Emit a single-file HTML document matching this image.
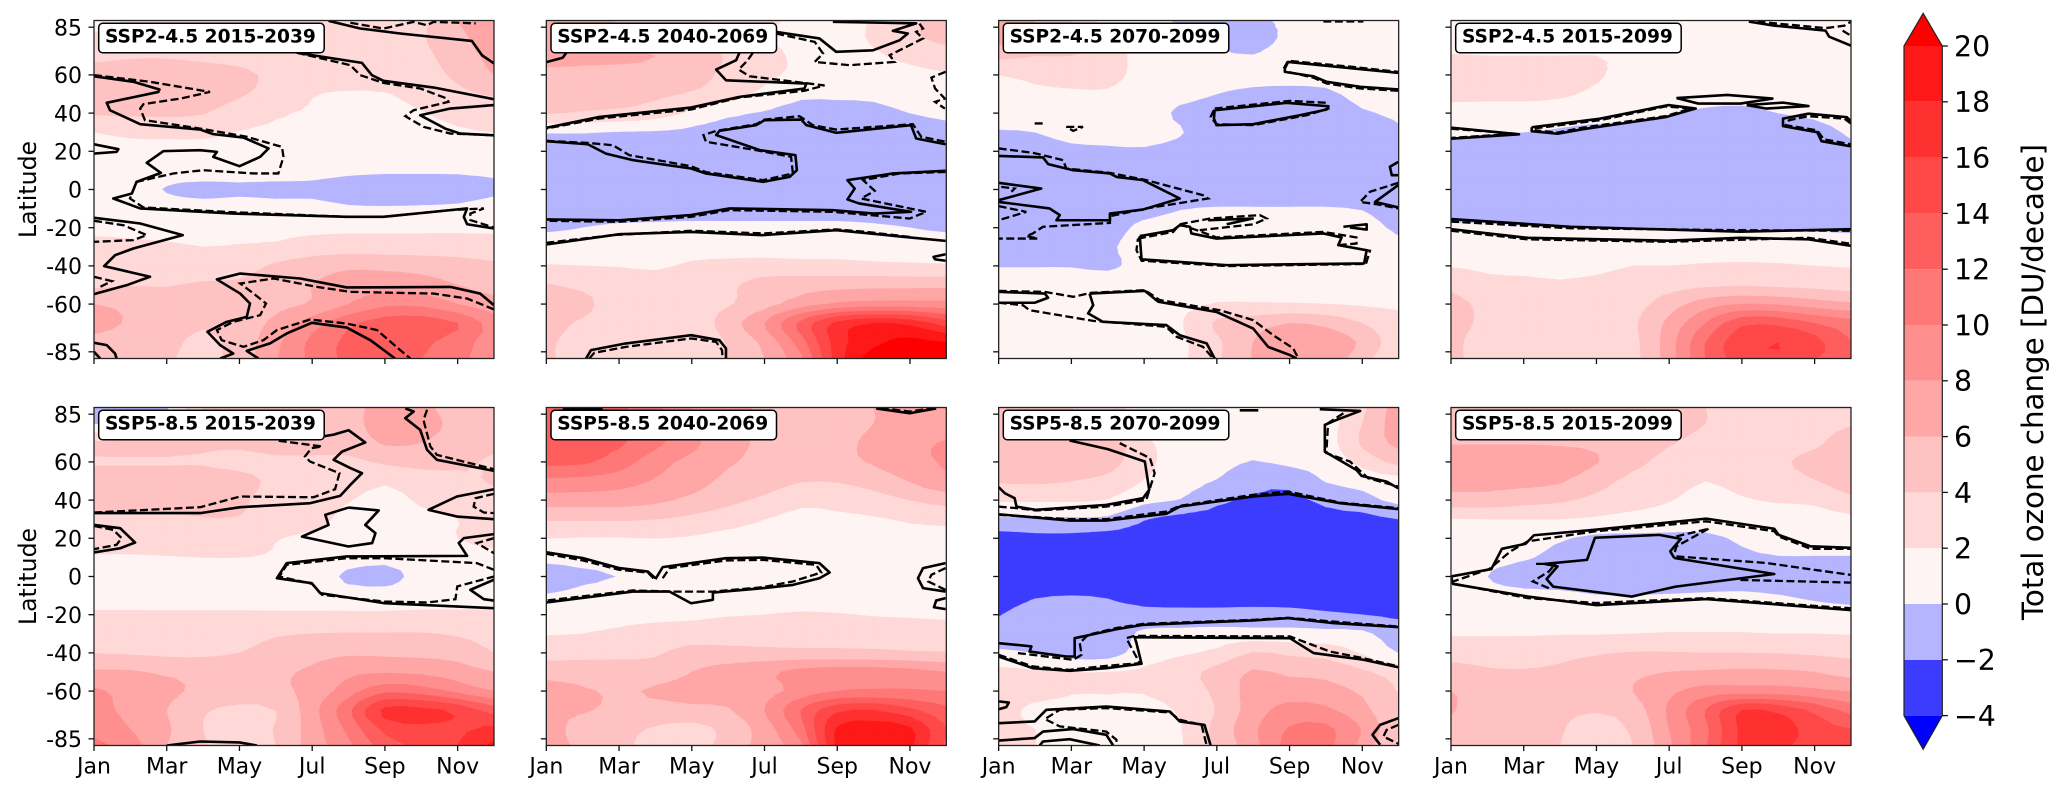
<!DOCTYPE html>
<html lang="en">
<head>
<meta charset="utf-8">
<title>Total ozone change by latitude and month</title>
<style>
html,body{margin:0;padding:0;background:#fff;width:2067px;height:790px;overflow:hidden}
svg{display:block}
text{font-family:"DejaVu Sans","Liberation Sans",sans-serif;fill:#000}
.panel-title{font-weight:bold;font-size:18.6px}
.axis-text{font-size:22px}
.axis-title{font-size:23.6px}
.cb-text{font-size:28.4px}
.cb-title{font-size:29.3px}
</style>
</head>
<body>
<svg id="chart" xmlns="http://www.w3.org/2000/svg" width="2067" height="790" viewBox="0 0 2067 790">
  <g id="panel-0"><g id="title-0"><rect x="98.7" y="23.3" width="225.5" height="29.5" rx="4" fill="#fff" stroke="#000" stroke-width="1.5"/><text class="panel-title" x="105" y="42.7">SSP2-4.5 2015-2039</text></g></g>
  <g id="panel-1"><g id="title-1"><rect x="551" y="23.3" width="225.5" height="29.5" rx="4" fill="#fff" stroke="#000" stroke-width="1.5"/><text class="panel-title" x="557.3" y="42.7">SSP2-4.5 2040-2069</text></g></g>
  <g id="panel-2"><g id="title-2"><rect x="1003.3" y="23.3" width="225.5" height="29.5" rx="4" fill="#fff" stroke="#000" stroke-width="1.5"/><text class="panel-title" x="1009.6" y="42.7">SSP2-4.5 2070-2099</text></g></g>
  <g id="panel-3"><g id="title-3"><rect x="1455.7" y="23.3" width="225.5" height="29.5" rx="4" fill="#fff" stroke="#000" stroke-width="1.5"/><text class="panel-title" x="1462" y="42.7">SSP2-4.5 2015-2099</text></g></g>
  <g id="panel-4"><g id="title-4"><rect x="98.7" y="410.3" width="225.5" height="29.5" rx="4" fill="#fff" stroke="#000" stroke-width="1.5"/><text class="panel-title" x="105" y="429.7">SSP5-8.5 2015-2039</text></g></g>
  <g id="panel-5"><g id="title-5"><rect x="551" y="410.3" width="225.5" height="29.5" rx="4" fill="#fff" stroke="#000" stroke-width="1.5"/><text class="panel-title" x="557.3" y="429.7">SSP5-8.5 2040-2069</text></g></g>
  <g id="panel-6"><g id="title-6"><rect x="1003.3" y="410.3" width="225.5" height="29.5" rx="4" fill="#fff" stroke="#000" stroke-width="1.5"/><text class="panel-title" x="1009.6" y="429.7">SSP5-8.5 2070-2099</text></g></g>
  <g id="panel-7"><g id="title-7"><rect x="1455.7" y="410.3" width="225.5" height="29.5" rx="4" fill="#fff" stroke="#000" stroke-width="1.5"/><text class="panel-title" x="1462" y="429.7">SSP5-8.5 2015-2099</text></g></g>
  <text class="axis-title" transform="translate(36,189.5) rotate(-90)" text-anchor="middle">Latitude</text>
  <text class="axis-title" transform="translate(36,576.5) rotate(-90)" text-anchor="middle">Latitude</text>
  <g id="colorbar"></g>
  <text class="cb-title" transform="translate(2043,382) rotate(-90)" text-anchor="middle">Total ozone change [DU/decade]</text>
</svg>
<script>
// ---- axes and colour scale data ----
const monthTicks = [0, 2, 4, 6, 8, 10];
const monthLabels = ['Jan', 'Mar', 'May', 'Jul', 'Sep', 'Nov'];
const latTicks = [85, 60, 40, 20, 0, -20, -40, -60, -85];
const latRows = [88.5, 80, 70, 60, 50, 40, 30, 20, 10, 0, -10, -20, -30, -40, -50, -60, -70, -80, -88.5];
const levels = [-4, -2, 0, 2, 4, 6, 8, 10, 12, 14, 16, 18, 20];
const bandColors = ['#0000ff', '#3c3cff', '#b4b4ff', '#fff4f4', '#ffd8d8', '#ffc2c2', '#ffa6a6', '#ff8f8f', '#ff7878', '#ff5e5e', '#ff4848', '#ff3030', '#ff1818', '#ff0000'];
const colorbarTicks = [-4, -2, 0, 2, 4, 6, 8, 10, 12, 14, 16, 18, 20];

// ---- ozone trend fields: rows follow latRows, columns are Jan..Dec ----
const fieldA = [
[0.5,2.5,3,3,3,3,3,3,3,3.5,6,7.5],
[2.5,3,3,3,3,3,3,3,3.2,3.8,5.5,7],
[3.5,3.8,3.8,3.5,3.2,3,3,3,3,3.5,5,6.5],
[4.8,5,5,5,4.5,3.5,3,3,3,3.2,4.4,6],
[5,5.2,5,4.9,4.2,3.2,2.1,1.8,1.9,2.6,3.5,4.2],
[4.2,4.3,4.3,4.1,3,2.2,1.8,1.6,1.6,1.9,2.5,3],
[2,2.4,2.5,2.5,1.9,1.7,1.5,1.4,1.4,1.6,1.8,2],
[1.5,1.4,1.3,1.2,1.2,1.2,1.2,1.2,1.2,1.2,1.3,1.4],
[1.2,1,0.8,0.6,0.6,0.6,0.5,0.3,0.2,0.2,0.2,0.3],
[1,0.7,-0.1,-0.3,-0.2,-0.3,-0.3,-0.6,-0.7,-0.7,-0.6,-0.2],
[1,1,0.8,0.5,0.6,0.5,0.5,0.2,0.15,0.2,0.3,0.6],
[1.6,1.6,1.5,1.4,1.4,1.4,1.5,1.6,1.6,1.6,1.6,1.6],
[2.5,2.3,2.2,2,2.1,2.3,2.9,3,3,3,3,2.9],
[3,3,3,3,3.2,4.3,5,5.6,5.5,5.2,4.8,4.3],
[3.6,3.9,3.9,4.2,4.3,5,6,7,7.2,7,6,5.2],
[6,5.5,4.8,4.8,4.8,5.4,6.2,8,9.5,9.5,8,6.8],
[6.5,5.8,4.8,4.2,4.8,6.5,9,11.5,13,13,12,9],
[5.5,5,4.5,3.6,4.8,7.5,10.5,12.5,13.5,12.5,11,9],
[5,4.5,4.2,3.5,4.8,7.8,10.5,12.5,13,12,10.5,9]];
const fieldB = [
[8,6.5,6,5,4.5,3.5,2.5,1.5,1.2,2.2,3.5,5],
[7,6,5.5,5,4,3,2,1.5,1.5,2.2,3.5,4.8],
[7,6.5,6.3,6,5,3.8,2.7,1.6,1.6,1.8,2.4,2.8],
[5.3,5.4,5.4,5.2,4.7,3.5,2.4,1.6,1.5,1.4,1.6,1.9],
[5,5,4.9,4.4,3.8,2.9,1.5,0.4,0.4,0.5,1.2,1.3],
[4.1,3.8,3.5,2.9,1.6,0.4,-0.2,-0.8,-0.8,-0.7,0,0.4],
[0.1,0.1,-0.1,-0.2,-0.5,-1,-1,-1,-1,-1,-1,-0.6],
[-1,-1,-1,-1,-1,-1,-1,-1,-1,-1,-1,-1],
[-1,-1,-1,-1,-1,-1,-1,-1,-1,-1,-1,-1],
[-1,-1,-1,-1,-1,-1,-1,-1,-1,-1,-1,-1],
[-1,-1,-1,-1,-1,-1,-1,-1,-1,-1,-1,-1],
[-0.3,0,0.3,0.4,0.5,0.5,0.5,0.5,0.5,0.3,0,-0.3],
[1,1,1,1,1.1,1.2,1.2,1.2,1.2,1.1,1,1],
[2.1,2,1.9,1.7,2.3,2.5,2.7,2.6,2.6,2.4,2.3,2.2],
[4.1,3.6,3.3,3,3.1,3.6,4.8,5.2,5.4,5.5,5.5,5.5],
[4.6,4.4,3.2,3,3,3.8,5.2,7,8.3,8.8,8.8,8.7],
[4.4,3.8,2.9,2.8,2.7,5,8,12.5,16.5,18,17.5,15],
[4.2,3.4,2.6,2.4,2.4,4.2,6.5,11,17,19.5,20.5,20],
[4.2,3.3,2.6,2.2,2.4,4,6,9.5,17,21,22,21]];
const fieldC = [
[8,6,4,1,0.5,-0.2,-0.5,-0.3,0.3,0.6,0.6,0.6],
[7,5.5,4.5,3,1,0.3,-0.5,-0.8,0.4,0.5,0.6,0.6],
[4.5,4,4,3.2,1,0.7,0.3,0.05,0.7,0.8,0.8,0.8],
[2,2.4,2.6,2.5,1.4,0.8,0.7,0.6,0.6,0.8,0.9,0.9],
[1.6,1.7,1.8,1.8,1.2,0.5,0,-0.4,-0.5,-0.4,0.6,0.8],
[1.8,1.2,1.2,1.2,0.8,-0.3,-0.7,-1,-1,-1,-0.2,0.2],
[-0.3,0,0.7,0.7,0.6,0.1,-1,-1,-1,-1,-0.8,-0.2],
[-1,-1,-0.5,-0.3,-0.2,-0.6,-1,-1,-1,-1,-1,-1],
[-1,-1,-1,-1,-1,-1,-1,-1,-1,-1,-1,-1],
[-1,-1,-1,-1,-1,-1,-1,-1,-1,-1,-1,-1],
[-1,-1,-1,-1,-0.8,-0.1,0.1,0.1,0.1,0.1,-0.1,-0.8],
[-1,-1,-1,-0.8,0.5,1,1,1,1,1,0.8,-0.4],
[-1,-1,-0.9,-0.3,0.8,1,1,1,1,1,1,0.6],
[-0.1,-0.1,-0.1,-0.3,0.6,1,1,1,1,1,1,1],
[1,1,1,1,1,1.1,1.3,1.4,1.4,1.4,1.3,1.2],
[1.2,1.2,1.1,1.1,1.1,1.4,2.1,2.1,2.1,2,1.8,1.7],
[1,0.9,0.9,0.9,1.1,1.8,4.3,5,6,5.5,4,2.6],
[0.9,0.8,0.8,0.8,1,1.6,3.6,6,7.5,7.2,5.7,2.6],
[0.6,0.7,0.8,0.8,1,1.6,3.7,6.1,7.8,7.4,4.8,2.1]];
const fieldD = [
[0.8,0.8,0.8,0.8,0.8,0.8,0.8,0.8,0.8,0.8,0.8,0.8],
[1,1,1,1,1,1,1,1,1,1,1,1],
[2.1,2,2,2,2,1.6,1,1,1,1,1,1],
[2.8,2.8,2.8,2.8,2.2,1.4,1,1,1,1,1,1],
[2.5,2.4,2.5,2.3,1.6,1.1,0.9,0.7,0.6,0.8,0.9,0.9],
[1.2,1.2,1,0.8,0.7,0.5,0.1,-0.3,-0.4,0,0.3,0.6],
[0.3,0.1,0,-0.2,-0.5,-0.6,-1,-1,-1,-1,-0.6,0.2],
[-0.6,-0.8,-1,-1,-1,-1,-1,-1,-1,-1,-1,-0.4],
[-1,-1,-1,-1,-1,-1,-1,-1,-1,-1,-1,-1],
[-1,-1,-1,-1,-1,-1,-1,-1,-1,-1,-1,-1],
[-1,-1,-1,-1,-1,-1,-1,-1,-1,-1,-1,-1],
[0.3,0.3,0.1,0,0,0,-0.1,-0.2,-0.2,-0.2,-0.2,-0.3],
[1,1,1,1,1,1,0.8,0.8,0.8,0.8,0.8,0.8],
[1.9,1.6,1.5,1.4,1.6,2,2,2.2,2.3,2.2,2,1.9],
[3.5,2.6,2.4,2.2,2.4,2.7,3.2,3.6,3.8,3.6,3.4,3.1],
[4.6,3.4,2.7,2.6,2.6,3.2,5,7,8,7.8,7,6.3],
[4.5,3.6,2.9,2.6,2.6,3.6,6.5,10,13.5,13.5,12,10.8],
[4.4,3.2,2.8,2.5,2.5,3.4,7,12,15.3,16,14.7,12],
[4.5,3,2.6,2.4,2.4,3.3,7,12,15,15.5,14,13]];
const fieldE = [
[-0.3,-0.3,-0.2,4,5,5,5,5.5,6.5,6.5,5,4.5],
[-0.1,0,0.5,4.5,5,5,5,5.5,6.6,6.6,5.5,4.6],
[4.3,4.4,4.4,4.4,4.4,5,5,5,6.2,6,5.2,4.5],
[3.8,3.8,3.8,3.8,3.4,3.5,3.5,3.5,4.3,4.6,4.4,3.7],
[5,5,5,5,4.7,3.5,3.2,3,2.3,3.1,3.4,4.2],
[4.7,4.6,4.6,4.6,4.3,3.2,2.8,2.1,1.3,2.3,2.6,3.2],
[3.7,3.7,3.7,3.9,3.9,3.2,2.6,1.5,1.2,1.5,2,2.2],
[3,3,3,3,3,2.1,1.6,1.3,1.1,1.3,2,2.4],
[1.8,1.8,1.9,2,2,1.8,1.3,0.8,0.5,0.8,1.3,1.5],
[1,1,1,1,1,1,0.8,-0.3,-0.6,0.6,1,1],
[1,1,1,1,1,1,1,0.8,0.8,1,1,1],
[2.3,2.3,2.3,2.3,2.3,2.3,2.3,2.3,2.3,2.4,2.4,2.4],
[3,3,3.1,3.2,3.3,3.8,4,4.1,4.1,4.1,3.8,3.4],
[3.9,3.8,3.6,3.6,4,4.7,5.3,5.7,5.6,5.5,5.2,4],
[6.3,6.2,5.7,5.5,5.5,5.7,6.3,7.5,7.8,7.6,7,6],
[8.3,7.3,6.5,5.5,5,5.5,6.7,9,11.5,11,9.5,8],
[8.5,7.5,6,4.2,3.6,4,7.2,11.5,16.5,16.5,15.5,13],
[9.5,8,6.3,4,3.3,4.1,7,10.5,14.5,15.5,15.5,16.5],
[10.5,9,6,4.2,3.3,4,7,9.5,13,14.5,16,18.5]];
const fieldF = [
[14,13,12.4,10.5,8,7,5.5,5,5,6,6.5,6.3],
[13,13,12.4,10.5,8,6.6,5.5,5,5,6,6.5,6.5],
[13,12.8,12.3,10.5,8.5,6.6,5.7,5,5.4,6.5,7.3,8.2],
[12.5,12.3,11,8.8,7.4,6.2,5.5,5.1,5.4,6.2,7.3,8.2],
[9.5,9.3,8.8,7.8,6.8,5.5,4.9,4.1,4.1,4.8,6.1,7.5],
[7,7,6.9,6.4,5.5,4.5,3.6,2.5,2.7,3.2,4,4.8],
[4.2,4.2,4.2,4,3.5,2.8,2,1.4,1.6,1.8,2.2,2.4],
[2,1.9,1.9,2,1.8,1.4,1.2,1.1,1.1,1.3,1.5,1.6],
[0.5,0.6,0.8,1,1,1,1,1,1,1,1,1],
[-0.8,-0.25,0.02,0.5,0.5,0.8,0.9,1,1,1,1,1],
[0.1,0.5,0.8,0.9,0.9,0.9,1,1,1,1,1,1],
[1.3,1.4,1.5,1.6,1.7,1.9,2,2.2,2.1,1.9,1.8,1.7],
[1.9,2,2.3,2.6,2.8,2.9,3,3.1,3.1,3.1,3,2.9],
[3.2,3.4,3.5,3.7,4.8,4.7,4.6,4.5,4.5,4.4,4.2,4.1],
[5.2,5,4.9,5,6,6.7,7.5,8.6,9,9,8.7,8],
[6.8,6.2,5.8,6.2,6.6,6.8,7.2,8.8,10,10.2,10.2,10],
[6.5,6.2,5.5,5.3,5.5,5.8,8,12,15.5,16,14.5,12.5],
[7,5,4.5,3.8,3.3,4.6,7,11,18.3,19,18.4,14],
[7,5.4,4.2,3.8,3.6,4.6,7,9.5,18.5,19.3,18.5,13.5]];
const fieldG = [
[4,4,4,3,1,0.8,0.7,0.7,0.7,1,3.5,7],
[4.5,4.5,4.5,3.5,1,0.8,0.7,0.7,0.7,1,4,7],
[5,5.3,5.3,5,2.5,0.9,0.7,0.7,0.7,1,4.3,6.5],
[5.2,5.4,5.2,4.8,2.6,1,0.6,-0.1,0.4,0.8,2.6,4.6],
[4.2,4.3,4,3.4,1.9,0.8,-0.1,-1.3,-1.5,0.1,0.7,1.2],
[2.2,2.2,2.2,1.9,0.5,-0.1,-1.6,-2.3,-2.4,-1.6,-0.7,0.5],
[-0.3,-0.3,-0.3,-0.4,-1.9,-2.6,-2.8,-3,-3,-2.5,-2.6,-2],
[-2.8,-2.5,-2.5,-2.8,-3,-3,-3,-3,-3,-3,-3,-3],
[-3,-3,-3,-3,-3,-3,-3,-3,-3,-3,-3,-3],
[-3,-3,-3,-3,-3,-3,-3,-3,-3,-3,-3,-3],
[-3,-2.2,-2,-2.2,-3,-3,-3,-3,-3,-3,-3,-3],
[-2.1,-1,-1,-1,-1.2,-1.3,-1.3,-1.2,-1.3,-1.7,-2,-2.3],
[-1,-1,-1,-0.9,0.3,0.5,0.7,0.7,0.7,0.6,0.4,-1],
[0.3,-0.05,-0.8,-0.8,0.9,1.7,2.4,4.1,3.6,3.2,1.8,-0.05],
[2.5,2.2,2,2,2.3,3.2,4.6,6.2,5.6,5.4,4.3,3.2],
[2.8,2.6,2.1,2.1,2.1,2.9,4.4,6.8,7,6.7,5.7,3.9],
[2.6,1.6,1.4,1.4,1.4,2.2,4.1,7,8.7,8.4,6.6,4.4],
[2.3,2,1.4,1.2,1.3,1.9,4.6,7.6,10.2,10.5,7.9,4.2],
[2.2,2,1.4,1.2,1.3,1.8,4.5,7.2,10.8,10.6,7.3,3.6]];
const fieldH = [
[5,5,5,5,4.6,4.4,4.2,4,3.5,3,3,3],
[5.2,5.2,5.2,5,4.8,4.6,4.4,4,3.4,3,3.2,3.8],
[5.9,5.9,5.9,5.8,5.6,4.8,4.1,3.6,3.2,3,3.6,5],
[6.8,6.8,6.8,6.8,6.1,4.5,3.5,3.2,3.1,3.6,4.7,5.2],
[6.6,6.6,6.5,6.2,4.8,3.4,2.9,2,2.7,3,3.9,4.8],
[5.2,5.2,4.7,4.3,3.4,2.8,2.1,1.3,1.8,2.2,2.4,3.6],
[1.9,2,2,2,1.7,1.3,1,0.9,1,1,1.1,1.5],
[0.9,0.9,0.8,0.2,-0.4,-0.4,-0.4,-0.4,0.3,0.9,0.9,0.9],
[0.9,0.6,0.2,-0.5,-1,-1,-1,-1,-0.4,-0.1,-0.1,-0.1],
[0.6,0,-0.8,-1,-1,-1,-1,-1,-1,-1,-1,-1],
[0.8,0.6,0.5,0.4,0.05,0.02,0.1,0.2,0.3,0.05,-0.3,-0.5],
[1,1,1,1,1,1,1,1,1,1,0.8,0.6],
[1.8,1.8,1.8,1.9,1.9,2,2.1,2.1,2.1,2,2,1.9],
[3.4,3.3,3.4,3.5,3.8,4.1,4.1,4,4,3.9,3.7,3.5],
[4.6,4.2,4.1,4.3,4.8,5.5,6,6.2,6.4,6.3,6,5.2],
[6,5.2,5.2,5,5,6,7.5,8.8,9,9,8.4,7.9],
[6.2,4.6,4.4,4.3,4.1,4.9,8.3,12,16,15.5,13.5,11.3],
[5.3,4.2,4.2,4.1,3.5,4.2,8,11.5,16.5,17,15,14],
[5,4,4.1,4,3.3,4,7.6,11.8,16.5,16.5,15,14.5]];

// ---- significance contours, each vertex is [month index, latitude] ----
const solidA = [
[[6.45,88.3],[7.32,84.3],[8.42,81.7],[10.39,77.8],[10.67,70.3],[11,66]],
[[5.58,71.6],[6.59,68.6],[7.37,66.3],[7.64,59.9],[7.96,56.9],[9.34,53.4],[11,47.3]],
[[11,44.2],[9.8,42.4],[8.97,38.9],[9.66,31.9],[10.07,29.3],[11,28.4]],
[[0,59.3],[1.08,56.4],[1.8,52.4],[1.77,51.1],[0.35,45.4],[0.44,41.5],[1.27,34.2],[2.92,31.4],[3.28,29],[4.11,27.2],[4.8,21.5],[4.57,17.1],[4,12.2],[3.28,17.1],[3.38,19.7],[2.92,20.6],[1.91,20.1],[1.45,14],[1.84,8.7],[1.17,4],[1.04,-2.1],[0.53,-4.7],[1.27,-9.9],[3.83,-12.6],[6.95,-14.3],[7.96,-14.3],[9.8,-10.8],[10.26,-9.9],[10.17,-14.3],[10.26,-18.2],[11,-20.4]],
[[0,23.7],[0.67,21.1],[0.62,19.7],[0,18.8]],
[[0,-14.8],[1.27,-17.8],[2.44,-23.9],[1.08,-30.9],[0.58,-34.4],[0.28,-40.1],[1.54,-45.7],[0.9,-50.1],[0,-54.8]],
[[11,-60.6],[10.62,-54.5],[9.8,-51],[6.95,-51.3],[5.67,-46.6],[4.02,-44],[3.38,-47.1],[4.02,-54.5],[4.29,-59.7],[4.2,-66.7],[3.65,-69.3],[3.12,-74.5],[3.47,-81.5],[3.83,-85.9],[3.47,-88.5]],
[[4.52,-88.5],[4.2,-84.5],[4.84,-80.6],[5.3,-75.4],[5.99,-69.8],[6.95,-72.3],[7.6,-78.9],[8.28,-88.5]],
[[0,-80.3],[0.35,-81.5],[0.58,-85.9],[0.62,-88.5]],
[[0,-85],[0.17,-88.5]]];
const dashedA = [
[[7.05,87.3],[7.96,84.3],[8.79,87.8],[9.16,86],[9.34,87.8],[10.5,87]],
[[5.58,71.6],[7.05,65.1],[7.32,59.9],[7.96,55.8],[8.97,52.9],[9.71,47.6],[9.75,45.9],[8.79,41.5],[8.56,38.4],[9.06,32.8],[9.8,29.3],[11,28.4]],
[[0,59.9],[1.54,56.4],[3.19,51.1],[2.37,47.6],[1.36,44.7],[1.27,42.4],[1.4,36.3],[2.92,31.9],[4.2,27.6],[5.17,22.3],[5.21,17.1],[5.07,8.4],[4.39,8.4],[3.01,10.1],[2.18,8.4],[1.17,4],[0.99,-4.7],[1.36,-9.4],[3.83,-11.9],[6.95,-14.3],[7.96,-14.3],[9.8,-10.8],[10.72,-9.9],[10.35,-12.6],[10.35,-16],[11,-19.9]],
[[0,-16.4],[0.81,-18.7],[1.45,-23.9],[1.08,-26.5],[0,-27.4]],
[[0,-45.7],[0.49,-48],[0.17,-51]],
[[11,-62.8],[10.26,-57.1],[9.34,-54.5],[7.05,-53.6],[6.13,-51],[4.94,-46.6],[4.02,-49.2],[4.39,-54.5],[4.73,-59.7],[4.57,-65.8],[3.83,-69.3],[3.38,-73.6],[3.51,-78.9],[4.11,-82.4],[4.66,-78.9],[5.03,-73.6],[5.94,-68.1],[6.95,-70.2],[7.78,-73.6],[8.42,-84.1],[8.7,-88.5]]];
const solidB = [
[[0,66.7],[0.45,69],[0.55,71.6]],
[[5.31,71.6],[5.22,67.7],[4.67,62.8],[4.94,57.2],[7.15,55.5],[7.1,52.9],[5.31,48.5],[3.98,42.9],[1.46,38],[0,32.3]],
[[6.32,82.5],[7.51,79.1],[7.97,72.1],[8.98,72.9],[9.72,78.2],[9.94,81.7],[9.53,83.1],[10.17,87],[7.88,87.8]],
[[0,25.3],[1.14,23.7],[1.64,18.8],[2.38,15.4],[3.98,11],[4.39,8.4],[5.96,4],[6.69,6.6],[6.89,10.1],[6.85,18],[5.87,20.6],[4.67,28.5],[4.76,30.7],[5.77,33.7],[6,36.3],[7.01,36.6],[7.15,33.7],[7.97,29.7],[10.03,33.7],[10.17,26.7],[10.98,23.7]],
[[10.98,9.8],[9.53,8.4],[8.28,4.9],[8.48,0.5],[8.28,-5.2],[8.6,-7.3],[10.03,-11.7],[9,-12.6],[7.88,-10.8],[5.04,-9.9],[3.98,-13.4],[2.01,-16.1],[0,-15.7]],
[[0,-28.8],[2.01,-23.4],[3.98,-22.2],[5.96,-23.9],[7.97,-21.3],[9.99,-25.1],[10.98,-26.9]],
[[10.98,-33.9],[10.65,-35.3],[10.69,-36.6],[10.98,-37.3]],
[[1.09,-88.5],[1.23,-84.1],[2.19,-80.6],[3.98,-76.3],[4.76,-78.9],[4.94,-83.2],[4.94,-88.5]]];
const dashedB = [
[[5.68,71.6],[5.54,67.7],[5.29,62.8],[5.59,59.3],[7.65,54.5],[7.1,51.7],[5.31,48.2],[3.98,41.9],[1.46,37.2],[0,31.9]],
[[6.32,81.7],[7.38,77.3],[7.61,71.2],[7.38,66.8],[8.34,65.1],[9.58,66.8],[9.44,70.3],[10.36,79.1],[10.17,82.5],[10.36,84.3],[10.22,87.8]],
[[10.98,61.6],[10.59,58.6],[10.69,52.9],[10.96,47.6],[10.69,45.9],[10.96,42.4]],
[[0,25.5],[1.14,24.4],[1.83,23.2],[2.28,18],[3.98,12.2],[4.39,9.1],[5.96,4.9],[6.78,8.4],[6.73,17.1],[5.77,20.6],[4.39,25],[4.32,28.5],[4.67,30.7],[5.77,34.2],[6,36.6],[6.96,38.4],[7.33,33.7],[7.97,31.4],[10.08,34.2],[10.31,27.6],[10.98,25]],
[[10.98,9.2],[9.72,8.4],[8.71,4.9],[9.03,-0.7],[8.66,-4.7],[10.45,-11.7],[9.99,-15.2],[7.88,-11.7],[5.04,-10.8],[3.98,-14.3],[2.01,-16.9],[0,-16.4]],
[[0,-27.9],[1.83,-23.9],[3.98,-21.6],[5.96,-23],[7.97,-20.9],[8.8,-22.2],[9.99,-24.8]],
[[1.18,-88.5],[1.32,-85.5],[2.19,-82.4],[3.98,-78],[4.67,-79.8],[4.83,-84.1],[4.85,-88.5]]];
const solidC = [
[[7.87,63.4],[7.96,66.8],[9.75,63.4],[10.99,61.1]],
[[10.99,52.4],[9.94,53.8],[9.02,56.4],[8.65,59.3],[7.87,61.6],[7.87,63.4]],
[[5.94,41.5],[7.92,45.4],[9.07,43.6],[9.02,41.9],[8.28,38.9],[7,34.2],[5.99,33.7],[5.92,37.2],[5.94,41.5]],
[[0,17.6],[1.22,16.8],[1.36,13.3],[2.05,10.1],[3.06,8.4],[3.24,6.6],[3.97,4.9],[4.98,-4.7],[3.97,-10.5],[3.06,-12.6],[3.06,-16.1],[1.59,-16.1],[1.68,-13.4],[1.4,-9.9],[0,-6.5]],
[[0,3.5],[1.17,0.5],[0,-5.6]],
[[3.88,-24.4],[4.8,-21.3],[4.98,-18.7],[5.26,-19.5],[5.3,-23],[5.99,-25.7],[8.93,-23],[9.43,-25.1],[9.34,-29.1],[10.12,-31.8],[10.05,-38.7],[6.27,-39.6],[3.93,-36.6],[3.88,-24.4]],
[[5.76,-16.1],[6.99,-15.2],[6.27,-18.2]],
[[9.48,-19.5],[10.12,-18.2],[10.12,-21],[9.66,-19.9]],
[[10.99,2.3],[10.35,-6.5],[10.99,-9.4]],
[[10.99,14.5],[10.76,11.9],[10.81,7.5],[10.99,7.5]],
[[0,-53.6],[1.27,-54.5],[1.36,-56.7],[0.99,-59.3],[0,-59.3]],
[[2.5,-54.5],[4.02,-53.1],[4.39,-58.8],[5.99,-64.1],[7,-72.8],[7.41,-82.4],[8.01,-86.7],[8.19,-88.5]],
[[2.5,-54.5],[2.6,-60.6],[2.46,-64.9],[2.87,-69.3],[4.61,-71],[4.98,-76.3],[5.72,-80.6],[5.94,-88.5]]];
const dashedC = [
[[0.99,34.6],[1.22,34.6]],
[[1.86,32.8],[2.32,32.8],[2.05,30.7],[1.86,32.8]],
[[7.84,63.4],[7.96,67.4],[9.75,64.2],[10.99,61.6]],
[[10.99,51.7],[9.94,52.9],[9.02,55.5],[8.65,58.6],[7.84,62.1]],
[[5.94,42.4],[8.01,46.4],[9.02,45.4],[9.07,42.4],[8.47,38.9],[7,33.7],[5.99,34.2],[5.83,38],[5.94,42.4]],
[[0,21.5],[0.95,19.2],[1.77,15.4],[1.86,11],[3.06,8.7],[4.06,4.9],[5.62,-3],[5.76,-4.7],[4.06,-9.9],[3.06,-14],[3.06,-17.5],[1.22,-19.5],[0.94,-23],[0.76,-24.4],[1.08,-25.7],[0,-25.7]],
[[0,-8.7],[0.76,-11.7],[0,-16.1]],
[[0.07,1.4],[0.44,0.5],[0.35,-1.2]],
[[3.83,-25.7],[4.8,-22.2],[4.98,-18.2],[5.58,-22.2],[5.99,-25.1],[8.93,-22.2],[9.84,-25.1],[9.84,-28.3],[9.34,-29.1],[10.21,-32.1],[10.1,-39],[6.27,-40.1],[3.93,-37.3],[3.79,-31.8],[3.83,-25.7]],
[[4.98,-18.2],[5.81,-15.2],[7.18,-13.4],[7.37,-15.2],[7.01,-18.2],[5.53,-21.3]],
[[10.99,3.5],[10.21,-1.2],[9.94,-6.5],[10.39,-7.7],[10.99,-9.9]],
[[0,-53.1],[1.27,-53.6],[2.05,-56.2],[2.55,-54.1],[4.02,-52.7],[4.43,-57.9],[6.08,-63.2],[7,-68.4],[7.55,-76.3],[8.1,-83.2],[8.24,-88.5]],
[[0,-59.3],[0.67,-60.6],[0.85,-63.2],[2.6,-68.8],[4.61,-71.9],[4.89,-77.1],[5.62,-82.4],[5.9,-88.5]],
[[8.93,88],[10.03,88]]];
const solidD = [
[[8.19,87.9],[8.9,85.8],[10.3,83.2],[10.4,80],[11,75.3]],
[[0,32.4],[1.87,28.9],[0,26.6]],
[[2.22,32.6],[4.1,37.1],[5.97,44.2],[6.73,42.4],[5.9,37.9],[3.63,31.6],[2.93,29.2],[2.22,30.5],[2.22,32.6]],
[[6.2,47.9],[7.6,49.5],[8.84,47.6],[7.96,45],[6.8,45],[6.2,47.9]],
[[8.13,44.2],[9.13,45.5],[9.83,43.7],[8.66,42.4],[8.13,44.2]],
[[11,35.8],[10.88,37.9],[9.83,39.7],[9.13,37.1],[9.13,33.2],[10.07,30],[10.19,25.3],[11,22.6]],
[[0,-15.5],[3.28,-19.5],[7.96,-22.1],[11,-20.8]],
[[0,-20.8],[2.11,-25.3],[5.97,-26.8],[7.96,-25.3],[9.83,-26.1],[11,-29.5]]];
const dashedD = [
[[8.43,87.9],[10.3,84.5],[10.82,85.8],[11,87.9]],
[[10.77,83.2],[11,80.5]],
[[0,31.8],[1.8,29.2],[0,27]],
[[2.3,32],[4.1,36.3],[5.9,43.5],[6.6,42.4],[5.9,38.4],[3.63,32.4],[2.93,29.8],[2.3,31]],
[[11,34.5],[10.82,37.1],[9.83,38.4],[9.3,36.3],[9.2,33.7],[10.07,31],[10.25,26.3],[11,23.7]],
[[0,-16.8],[3.28,-20.3],[7.96,-21.3],[11,-21.6]],
[[0,-21.6],[2.11,-26.1],[5.97,-27.4],[9.83,-25.3],[11,-28.4]]];
const solidE = [
[[0,33.2],[2.92,33.2],[4.02,36.3],[5.95,38.4],[6.77,42.2],[7.05,48],[7.37,54.1],[7.05,56.8],[6.59,61.1],[6.82,65.4],[7.46,70.2],[7,76.6],[6.59,74.3],[6.29,73.3]],
[[8.56,88],[8.79,86.4],[8.56,82.9],[8.97,76.8],[9.16,66.3],[9.43,61.1],[11,55.3]],
[[11,45.7],[9.98,41.9],[9.2,34.9],[9.98,31.4],[11,30]],
[[7,36.1],[7.83,34.6],[7.46,27],[7.74,22.7],[7.65,17.5],[7,15.7],[5.72,20.9],[6.45,27],[6.36,32.3],[7,36.1]],
[[0,27],[0.72,25.3],[1.13,17.8],[0.72,14.8],[0,12.6]],
[[11,22.2],[10.17,20.1],[10.03,17.5],[10.26,10.8],[6.95,10.5],[5.3,7],[5.03,-0.9],[5.99,-3.5],[6.22,-8.7],[7.99,-14],[11,-16.6]],
[[11,-1.7],[10.35,-7],[10.72,-11.9],[11,-12.6]],
[[2,-88.5],[2.92,-86.4],[4,-86.9],[4.48,-88.5]]];
const dashedE = [
[[0,33.5],[2.92,36.3],[4.02,41.9],[6.04,41.5],[6.63,45.7],[6.75,54.1],[5.94,60.2],[5.8,62.8],[5.98,67.2],[6.27,68.1],[5.03,71.2]],
[[9.16,87.3],[9.06,82],[9.25,68.1],[9.43,63.7],[11,56.2]],
[[11,43.3],[10.49,41],[10.44,36.6],[10.72,33.5],[11,33.2]],
[[0,26.5],[0.53,24.4],[0.76,20.1],[0.62,16.6],[0,14.3]],
[[11,20.1],[10.53,17.5],[11,12.2]],
[[11,3.5],[10.53,7],[7.99,9.6],[6.95,9.6],[5.3,6.1],[5.1,0],[5.99,-3.8],[6.27,-9.6],[7.99,-13.1],[9.16,-13.6],[9.94,-11.9],[9.99,-5.2],[11,0]]];
const solidF = [
[[0,12.7],[1.01,9.6],[2.01,4.4],[2.79,2.6],[3,-0.9]],
[[3,-1.4],[3.2,4.9],[4.94,9.6],[5.95,9.9],[7.51,7],[7.79,2.1],[7.51,-0.9],[6.78,-4.4],[5.95,-6.1],[4.58,-8.4],[4.58,-12.2],[3.98,-14],[3.39,-7.9],[2.38,-7.9],[0,-13.6]],
[[9.07,88],[9.99,85.5],[10.72,88]],
[[10.98,7],[10.36,4.4],[10.22,-0.9],[10.36,-6.1],[10.98,-7.9]],
[[10.98,-11.3],[10.72,-12.6],[10.66,-16.1],[10.98,-17.1]],
[[0.45,88],[1.55,88]]];
const dashedF = [
[[0,11.9],[1.01,8.4],[2.01,3.5],[2.79,2.1],[2.97,-1.4]],
[[3.2,-0.9],[3.39,4.4],[4.94,8.4],[5.95,8.7],[7.42,6.1],[7.56,2.1],[6.78,-2.6],[5.95,-5.6],[4.58,-7.9],[3.48,-7.9],[2.38,-7.3],[0,-12.6]],
[[9.2,88.2],[9.99,86.4],[10.6,88]],
[[10.98,4.4],[10.59,0.9],[10.5,-2.6],[10.98,-7]]];
const solidG = [
[[0,46.8],[0.17,43.6],[0.44,41],[0.49,36.6],[1.03,34.9],[2.96,37.5],[3.97,41],[4.14,45.4],[4.02,60.2],[3,66.7],[1.95,71.2]],
[[0,32.6],[1.95,29.3],[2.96,29.3],[4.61,32.8],[4.98,36.6],[7,41.9],[7.96,43.3],[9.39,38.4],[10.99,35.3]],
[[8.83,87.6],[9.94,86.7],[9.29,82],[8.97,79.4],[8.97,65.4],[9.84,55.8],[9.98,52.7],[10.67,49.7],[10.99,46.2]],
[[6.63,87],[7.14,87]],
[[0,-41.9],[0.94,-48],[1.95,-49.4],[2.96,-48],[3.93,-45.7],[3.79,-34.9],[3.74,-31.8],[8.01,-32.3],[8.66,-40.1],[10.03,-43.6],[10.99,-47.5]],
[[0,-34.9],[0.9,-36.6],[0.85,-39.3],[1.86,-41.9],[2.09,-41.9],[2.09,-32.3],[3.24,-27.6],[3.97,-25.3],[7,-23],[7.96,-21.8],[9.2,-24.4],[10.99,-26.5]],
[[0,-76.8],[0.99,-75.9],[1.31,-69.8],[2.96,-68.1],[4.71,-70.7],[4.98,-75.9],[5.66,-77.7],[5.83,-88.5]],
[[0,-85.9],[0.99,-84.6],[1.22,-81.2],[2.05,-79.9],[2.96,-82.9],[3.15,-88.5]],
[[1.13,-88.5],[1.22,-86.4],[1.95,-85.2],[2.78,-88.5]],
[[0,-65.4],[0.28,-66],[0.21,-68.4],[0,-69.5]],
[[10.99,-74.2],[10.49,-77.7],[10.28,-82.9],[10.49,-88.1]]];
const dashedG = [
[[0,36.6],[0.49,35.8],[1.03,34.6],[2.96,36.6],[4.06,40.1],[4.29,54.1],[4.16,62],[3.33,69.8]],
[[0,32.3],[1.95,30],[2.96,30],[4.61,34],[4.98,37],[7,42.8],[7.96,44.5],[9.39,38.7],[10.99,35.8]],
[[9.48,85.5],[9.06,80.3],[9.01,64.6],[9.66,60.2],[10.16,51.5],[10.99,47.1]],
[[0,-41],[0.94,-47.1],[1.95,-48.9],[2.96,-46.8],[3.88,-45.4],[3.51,-32.3],[3.74,-31.1],[8.01,-31.4],[9.11,-39.3],[10.03,-42.8],[10.99,-47.1]],
[[0.53,-40.1],[2.05,-43.6],[2.28,-41],[2.23,-34.9],[2.46,-30.5],[3.24,-27],[3.97,-24.8],[7,-22.7],[7.96,-21.6],[9.2,-23.6],[10.99,-26.2]],
[[1.31,-74.2],[1.68,-69.8],[2.96,-68.9],[4.71,-71.2],[4.98,-75],[5.58,-77.7],[5.72,-88.5]],
[[1.31,-75],[1.68,-78.5],[2.96,-81.2],[3.24,-85.5],[3.24,-88.5]],
[[10.99,-77.7],[10.67,-80.3],[10.58,-83.8],[10.99,-87.6]]];
const solidH = [
[[0,0],[1.11,3.9],[1.4,14.5],[2.05,17.1],[2.28,21.6],[3.98,24.5],[7.02,30.3],[8.89,25],[9.01,21.8],[9.89,15.8],[11,15]],
[[0,0],[0.06,-3.9],[2.11,-10.5],[3.98,-15],[7.02,-11.8],[11,-17.6]],
[[6.14,9.7],[8.89,1.3],[6.18,-5.3],[4.97,-10.5],[2.81,-5.3],[2.63,-1.3],[2.93,5.3],[2.57,6.6],[3.74,8.7],[3.96,20.3],[5.73,21.8],[6.32,19.7],[6.03,13.2],[6.14,9.7]]];
const dashedH = [
[[0,-3],[1.05,3.9],[1.64,13.2],[2.11,18.4],[3.98,23.7],[7.02,28.9],[8.89,23.7],[9.01,21],[9.89,14.5],[11,14.5]],
[[0.12,-3.9],[2.11,-11.3],[3.98,-13.9],[7.02,-11.3],[10.3,-15.8],[11,-16.6]],
[[6.2,10.5],[8.66,7.1],[11,0.8]],
[[7.96,-1.8],[11,-3.2]],
[[7.08,25],[6.2,15.8],[6.14,11.8]],
[[6.2,21],[7.08,25]],
[[2.34,6.6],[2.87,6.6],[2.69,2.6],[2.25,-2.6],[2.69,-6.1]]];

const panelFields = [fieldA, fieldB, fieldC, fieldD, fieldE, fieldF, fieldG, fieldH];
const panelSolid = [solidA, solidB, solidC, solidD, solidE, solidF, solidG, solidH];
const panelDashed = [dashedA, dashedB, dashedC, dashedD, dashedE, dashedF, dashedG, dashedH];

// ---- layout and axis functions ----
const NS = 'http://www.w3.org/2000/svg';
const PLOT_W = 400, PLOT_H = 338, LAT_MAX = 88.5, MONTH_MAX = 11;
const LAT_SUB = 3, MONTH_SUB = 2;
function panelLeft(i) { return 94 + (i % 4) * 452.33; }
function panelTop(i) { return i < 4 ? 20.5 : 407.5; }
function xAxis(i, month) { return panelLeft(i) + month / MONTH_MAX * PLOT_W; }
function yAxis(i, lat) { return panelTop(i) + (LAT_MAX - lat) / (2 * LAT_MAX) * PLOT_H; }
function colorbarY(v) { return 46 + (20 - v) * 27.9; }
function make(tag, parent, before) {
  const el = document.createElementNS(NS, tag);
  if (before) parent.insertBefore(el, before); else parent.appendChild(el);
  return el;
}
function catmull(a, b, c, d, t) {
  return 0.5 * (2 * b + (c - a) * t + (2 * a - 5 * b + 4 * c - d) * t * t + (3 * b - a - 3 * c + d) * t * t * t);
}
function refineLine(arr, sub) {
  const out = [];
  for (let k = 0; k < arr.length - 1; k++) {
    const a = arr[Math.max(k - 1, 0)], b = arr[k], c = arr[k + 1], d = arr[Math.min(k + 2, arr.length - 1)];
    for (let s = 0; s < sub; s++) out.push(catmull(a, b, c, d, s / sub));
  }
  out.push(arr[arr.length - 1]);
  return out;
}
function refineField(field) {
  const byCol = field.map(function (row) { return refineLine(row, MONTH_SUB); });
  const cols = byCol[0].length;
  const colsFine = [];
  for (let c = 0; c < cols; c++) {
    colsFine.push(refineLine(byCol.map(function (row) { return row[c]; }), LAT_SUB));
  }
  return colsFine;
}
const fineLats = refineLine(latRows, LAT_SUB);
function clipAbove(tri, level) {
  const out = [];
  for (let k = 0; k < tri.length; k++) {
    const a = tri[k], b = tri[(k + 1) % tri.length];
    const ai = a[2] >= level, bi = b[2] >= level;
    if (ai) out.push(a);
    if (ai !== bi) {
      const t = (level - a[2]) / (b[2] - a[2]);
      out.push([a[0] + t * (b[0] - a[0]), a[1] + t * (b[1] - a[1]), level]);
    }
  }
  return out;
}
function regionPath(i, fine, level) {
  const parts = [];
  const addPoly = function (poly) {
    if (poly.length < 3) return;
    parts.push('M' + poly.map(function (p) { return p[0].toFixed(1) + ' ' + p[1].toFixed(1); }).join('L') + 'Z');
  };
  for (let c = 0; c < fine.length - 1; c++) {
    const x0 = xAxis(i, c / MONTH_SUB), x1 = xAxis(i, (c + 1) / MONTH_SUB);
    for (let r = 0; r < fineLats.length - 1; r++) {
      const y0 = yAxis(i, fineLats[r]), y1 = yAxis(i, fineLats[r + 1]);
      const p00 = [x0, y0, fine[c][r]], p10 = [x1, y0, fine[c + 1][r]];
      const p01 = [x0, y1, fine[c][r + 1]], p11 = [x1, y1, fine[c + 1][r + 1]];
      if (p00[2] >= level && p10[2] >= level && p01[2] >= level && p11[2] >= level) {
        addPoly([p00, p10, p11, p01]);
      } else {
        addPoly(clipAbove([p00, p10, p11], level));
        addPoly(clipAbove([p00, p11, p01], level));
      }
    }
  }
  return parts.join('');
}
function linePath(i, pts) {
  return 'M' + pts.map(function (p) { return xAxis(i, p[0]).toFixed(2) + ' ' + yAxis(i, p[1]).toFixed(2); }).join('L');
}

const svg = document.getElementById('chart');
const defs = make('defs', svg, svg.firstChild);

panelFields.forEach(function (field, i) {
  const group = document.getElementById('panel-' + i);
  const title = document.getElementById('title-' + i);
  const left = panelLeft(i), top = panelTop(i);
  const fine = refineField(field);

  const clip = make('clipPath', defs);
  clip.setAttribute('id', 'clip-' + i);
  const clipRect = make('rect', clip);
  clipRect.setAttribute('x', left);
  clipRect.setAttribute('y', top);
  clipRect.setAttribute('width', PLOT_W);
  clipRect.setAttribute('height', PLOT_H);

  const plot = make('g', group, title);
  plot.setAttribute('clip-path', 'url(#clip-' + i + ')');
  
  

  const base = make('rect', plot);
  base.setAttribute('x', left);
  base.setAttribute('y', top);
  base.setAttribute('width', PLOT_W);
  base.setAttribute('height', PLOT_H);
  base.setAttribute('fill', bandColors[0]);
  
  

  levels.forEach(function (level, k) {
    const d = regionPath(i, fine, level);
    if (!d) return;
    const band = make('path', plot);
    band.setAttribute('d', d);
    band.setAttribute('fill', bandColors[k + 1]);
    band.setAttribute('stroke', bandColors[k + 1]);
    band.setAttribute('stroke-width', '0.4');
    
    
  });

  panelDashed[i].forEach(function (pts) {
    const line = make('path', plot);
    line.setAttribute('d', linePath(i, pts));
    line.setAttribute('fill', 'none');
    line.setAttribute('stroke', '#000');
    line.setAttribute('stroke-width', '2.3');
    line.setAttribute('stroke-dasharray', '8 3.5');
    
    
  });
  panelSolid[i].forEach(function (pts) {
    const line = make('path', plot);
    line.setAttribute('d', linePath(i, pts));
    line.setAttribute('fill', 'none');
    line.setAttribute('stroke', '#000');
    line.setAttribute('stroke-width', '2.6');
    line.setAttribute('stroke-linejoin', 'round');
    
    
  });

  const frame = make('rect', group, title);
  frame.setAttribute('x', left);
  frame.setAttribute('y', top);
  frame.setAttribute('width', PLOT_W);
  frame.setAttribute('height', PLOT_H);
  frame.setAttribute('fill', 'none');
  frame.setAttribute('stroke', '#222');
  frame.setAttribute('stroke-width', '1.3');
  
  

  latTicks.forEach(function (lat) {
    const y = yAxis(i, lat);
    const tick = make('line', group, title);
    tick.setAttribute('x1', left - 5.5);
    tick.setAttribute('x2', left);
    tick.setAttribute('y1', y);
    tick.setAttribute('y2', y);
    tick.setAttribute('stroke', '#111');
    tick.setAttribute('stroke-width', '1.3');
    
    
    if (i % 4 === 0) {
      const label = make('text', group, title);
      label.setAttribute('class', 'axis-text');
      label.setAttribute('x', left - 12);
      label.setAttribute('y', y + 8.2);
      label.setAttribute('text-anchor', 'end');
      label.textContent = String(lat);
      
      
    }
  });

  monthTicks.forEach(function (month, k) {
    const x = xAxis(i, month);
    const tick = make('line', group, title);
    tick.setAttribute('x1', x);
    tick.setAttribute('x2', x);
    tick.setAttribute('y1', top + PLOT_H);
    tick.setAttribute('y2', top + PLOT_H + 5.5);
    tick.setAttribute('stroke', '#111');
    tick.setAttribute('stroke-width', '1.3');
    
    
    if (i >= 4) {
      const label = make('text', group, title);
      label.setAttribute('class', 'axis-text');
      label.setAttribute('x', x);
      label.setAttribute('y', top + PLOT_H + 28);
      label.setAttribute('text-anchor', 'middle');
      label.textContent = monthLabels[k];
      
      
    }
  });
});

// ---- colorbar ----
const cb = document.getElementById('colorbar');
const CB_L = 1904, CB_R = 1942.3, CB_M = (CB_L + CB_R) / 2;
const topCap = make('polygon', cb);
topCap.setAttribute('points', CB_L + ',' + colorbarY(20) + ' ' + CB_M + ',13.3 ' + CB_R + ',' + colorbarY(20));
topCap.setAttribute('fill', bandColors[bandColors.length - 1]);


const bottomCap = make('polygon', cb);
bottomCap.setAttribute('points', CB_L + ',' + colorbarY(-4) + ' ' + CB_M + ',749.3 ' + CB_R + ',' + colorbarY(-4));
bottomCap.setAttribute('fill', bandColors[0]);


levels.slice(0, -1).forEach(function (level, k) {
  const seg = make('rect', cb);
  seg.setAttribute('x', CB_L);
  seg.setAttribute('y', colorbarY(levels[k + 1]));
  seg.setAttribute('width', CB_R - CB_L);
  seg.setAttribute('height', colorbarY(level) - colorbarY(levels[k + 1]));
  seg.setAttribute('fill', bandColors[k + 1]);
  
  
});
const outline = make('polygon', cb);
outline.setAttribute('points', [[CB_L, colorbarY(20)], [CB_M, 13.3], [CB_R, colorbarY(20)], [CB_R, colorbarY(-4)], [CB_M, 749.3], [CB_L, colorbarY(-4)]].map(function (p) { return p.join(','); }).join(' '));
outline.setAttribute('fill', 'none');
outline.setAttribute('stroke', '#222');
outline.setAttribute('stroke-width', '1.2');


colorbarTicks.forEach(function (v) {
  const y = colorbarY(v);
  const tick = make('line', cb);
  tick.setAttribute('x1', CB_R);
  tick.setAttribute('x2', CB_R + 5.5);
  tick.setAttribute('y1', y);
  tick.setAttribute('y2', y);
  tick.setAttribute('stroke', '#111');
  tick.setAttribute('stroke-width', '1.3');
  
  
  const label = make('text', cb);
  label.setAttribute('class', 'cb-text');
  label.setAttribute('x', 1954);
  label.setAttribute('y', y + 10.4);
  label.textContent = v < 0 ? '\u2212' + Math.abs(v) : String(v);
  
  
});
</script>
</body>
</html>
